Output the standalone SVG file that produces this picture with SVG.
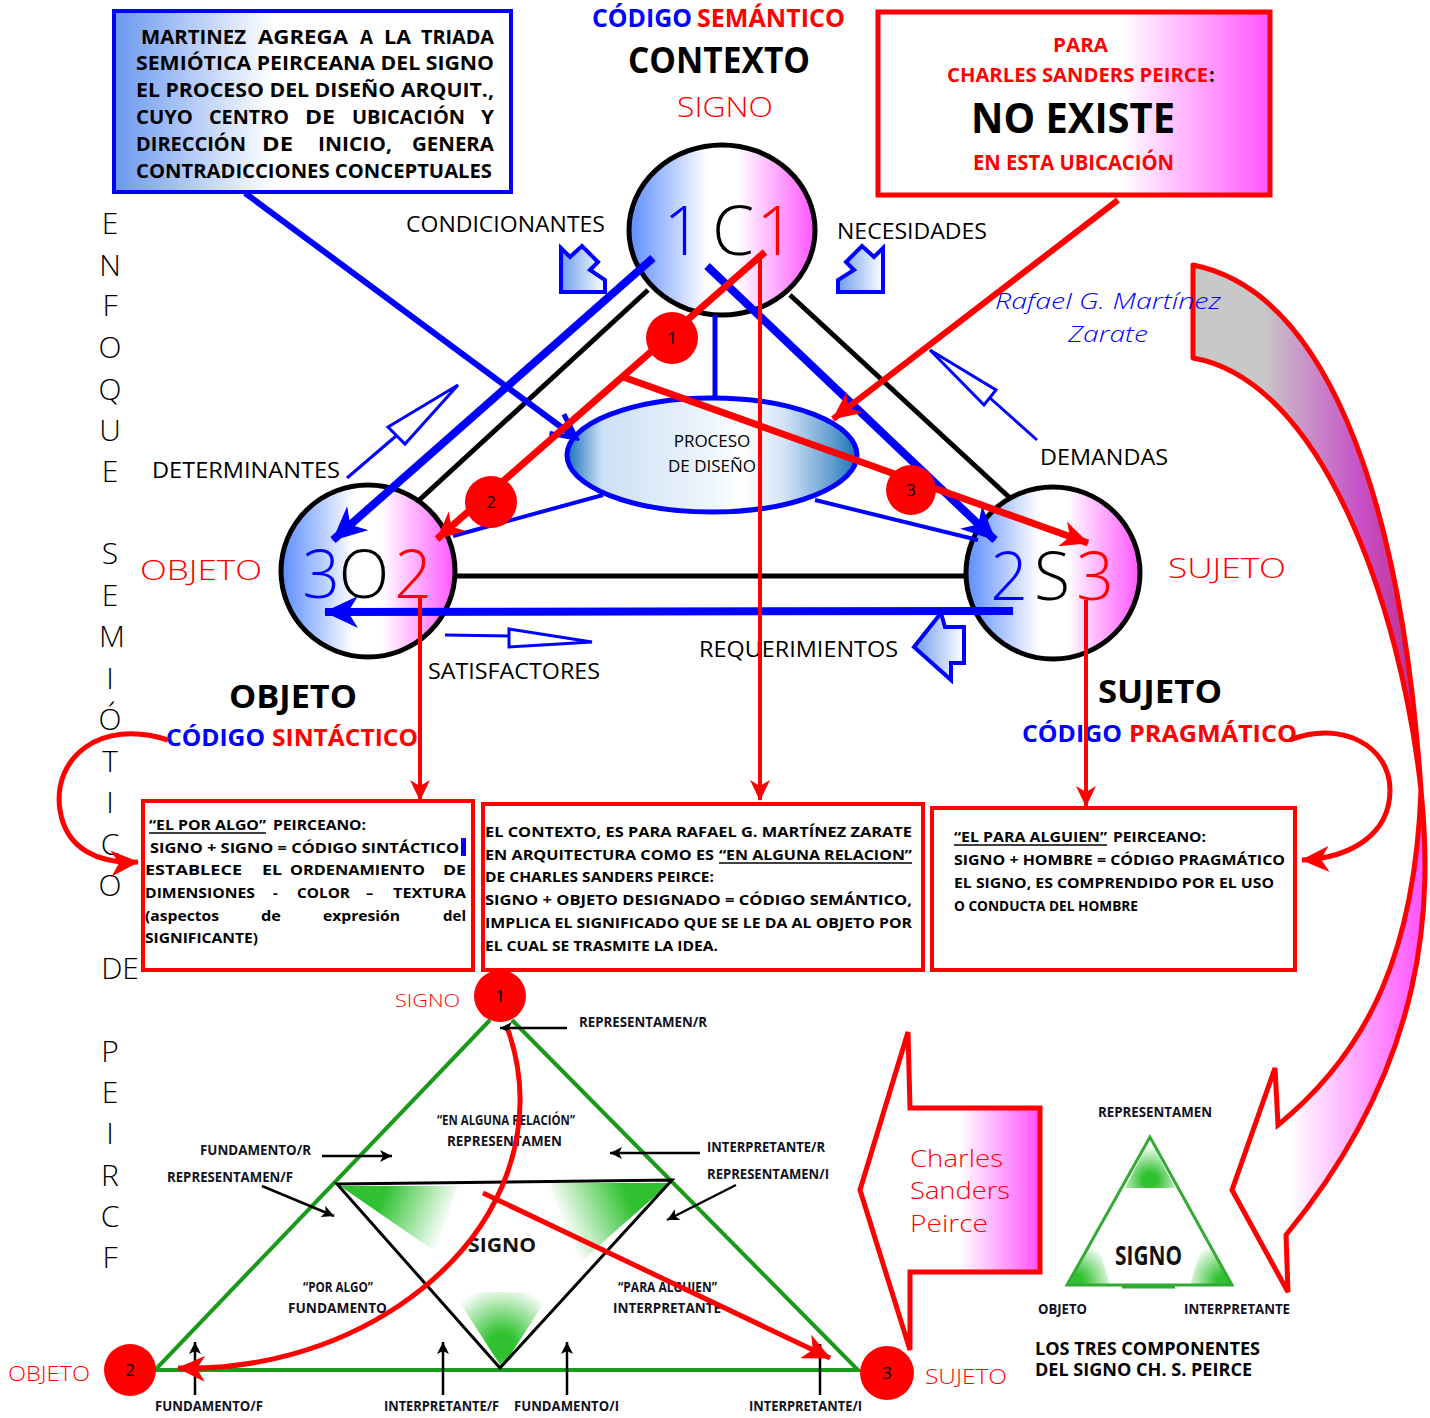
<svg xmlns="http://www.w3.org/2000/svg" width="1430" height="1418" viewBox="0 0 1430 1418">
<style>
.b{font-family:"Open Sans","Liberation Sans",sans-serif;font-weight:700}
.n{font-family:"Open Sans","Liberation Sans",sans-serif;font-weight:400}
.l{font-family:"Open Sans","Liberation Sans",sans-serif;font-weight:300}
.lbl{font-family:"Open Sans","Liberation Sans",sans-serif;font-weight:700;fill:#111122;font-size:15px}
.vl{font-family:"Open Sans","Liberation Sans",sans-serif;font-weight:300;font-size:30px;fill:#000;text-anchor:middle}
</style>
<defs>
<linearGradient id="gCirc" x1="0" y1="0" x2="1" y2="0">
<stop offset="0" stop-color="#5b8cff"/><stop offset="0.42" stop-color="#fff"/><stop offset="0.58" stop-color="#fff"/><stop offset="1" stop-color="#ff55ff"/>
</linearGradient>
<linearGradient id="gBlueBox" x1="0" y1="0" x2="1" y2="0">
<stop offset="0" stop-color="#6a98ee"/><stop offset="0.4" stop-color="#fff"/>
</linearGradient>
<linearGradient id="gPinkBox" x1="0" y1="0" x2="1" y2="0">
<stop offset="0.62" stop-color="#fff"/><stop offset="1" stop-color="#ff55ff"/>
</linearGradient>
<linearGradient id="gEll" x1="0" y1="0" x2="1" y2="0">
<stop offset="0" stop-color="#1570b8"/><stop offset="0.12" stop-color="#cde0f6"/><stop offset="0.5" stop-color="#eef5fc"/><stop offset="0.6" stop-color="#fff"/><stop offset="0.75" stop-color="#d2e4f6"/><stop offset="0.92" stop-color="#5d9bd0"/><stop offset="1" stop-color="#1570b8"/>
</linearGradient>
<linearGradient id="gBlk" x1="0" y1="0" x2="1" y2="0">
<stop offset="0" stop-color="#6f9ded"/><stop offset="1" stop-color="#fff"/>
</linearGradient>
<linearGradient id="gRibTop" gradientUnits="userSpaceOnUse" x1="1193" y1="0" x2="1425" y2="0">
<stop offset="0.3" stop-color="#c8c8c8"/><stop offset="0.72" stop-color="#c850c8"/><stop offset="1" stop-color="#c02880"/>
</linearGradient>
<linearGradient id="gRibBot" gradientUnits="userSpaceOnUse" x1="1290" y1="0" x2="1425" y2="0">
<stop offset="0" stop-color="#fff"/><stop offset="1" stop-color="#ff50ff"/>
</linearGradient>
<linearGradient id="gCSP" gradientUnits="userSpaceOnUse" x1="960" y1="0" x2="1040" y2="0">
<stop offset="0" stop-color="#fff"/><stop offset="1" stop-color="#ff50ff"/>
</linearGradient>
<linearGradient id="gGL" gradientUnits="userSpaceOnUse" x1="345" y1="1188" x2="445" y2="1230">
<stop offset="0.35" stop-color="#2fc12f"/><stop offset="1" stop-color="#2fc12f" stop-opacity="0"/>
</linearGradient>
<linearGradient id="gGR" gradientUnits="userSpaceOnUse" x1="665" y1="1186" x2="565" y2="1230">
<stop offset="0.35" stop-color="#2fc12f"/><stop offset="1" stop-color="#2fc12f" stop-opacity="0"/>
</linearGradient>
<radialGradient id="gGB" gradientUnits="userSpaceOnUse" cx="502" cy="1345" r="60">
<stop offset="0.2" stop-color="#2fc12f"/><stop offset="1" stop-color="#2fc12f" stop-opacity="0"/>
</radialGradient>
<radialGradient id="gGS1" gradientUnits="userSpaceOnUse" cx="1150" cy="1180" r="35">
<stop offset="0.2" stop-color="#2fc12f"/><stop offset="1" stop-color="#2fc12f" stop-opacity="0"/>
</radialGradient>
<radialGradient id="gGS2" gradientUnits="userSpaceOnUse" cx="1075" cy="1282" r="40">
<stop offset="0.2" stop-color="#2fc12f"/><stop offset="1" stop-color="#2fc12f" stop-opacity="0"/>
</radialGradient>
<radialGradient id="gGS3" gradientUnits="userSpaceOnUse" cx="1225" cy="1282" r="40">
<stop offset="0.2" stop-color="#2fc12f"/><stop offset="1" stop-color="#2fc12f" stop-opacity="0"/>
</radialGradient>
<marker id="aRed" markerUnits="userSpaceOnUse" markerWidth="30" markerHeight="26" refX="27" refY="13" orient="auto">
<path d="M0,0 L28,13 L0,26 L8,13 Z" fill="#ff0000"/>
</marker>
<marker id="aRedS" markerUnits="userSpaceOnUse" markerWidth="22" markerHeight="20" refX="20" refY="10" orient="auto">
<path d="M0,0 L21,10 L0,20 L6,10 Z" fill="#ff0000"/>
</marker>
<marker id="aBlue" markerUnits="userSpaceOnUse" markerWidth="36" markerHeight="32" refX="33" refY="16" orient="auto">
<path d="M0,0 L34,16 L0,32 L10,16 Z" fill="#0000ff"/>
</marker>
<marker id="aBlueV" markerUnits="userSpaceOnUse" markerWidth="30" markerHeight="30" refX="26" refY="15" orient="auto">
<path d="M2,3 L26,15 L2,27" fill="none" stroke="#0000ff" stroke-width="5"/>
</marker>
<marker id="aK" markerUnits="userSpaceOnUse" markerWidth="16" markerHeight="16" refX="14" refY="8" orient="auto">
<path d="M2,2 L14,8 L2,14 L5,8 Z" fill="#000"/>
</marker>
</defs>
<rect width="1430" height="1418" fill="#fff"/>

<g id="ribbon">
<path d="M1193,265 C1320,290 1400,480 1421,790 C1400,600 1320,380 1193,358 Z" fill="url(#gRibTop)" stroke="#ff0000" stroke-width="5" stroke-linejoin="round"/>
<path d="M1421,790 C1432,900 1430,1060 1286,1235 L1288,1292 L1232,1190 L1275,1068 L1278,1125 C1370,1050 1415,950 1421,790 Z" fill="url(#gRibBot)" stroke="#ff0000" stroke-width="5"/>
</g>

<g id="note-martinez">
<rect x="114" y="11" width="397" height="181" fill="url(#gBlueBox)" stroke="#0000ff" stroke-width="4"/>
<g class="b" font-size="19.5" fill="#000">
<text x="141" y="44" textLength="105" lengthAdjust="spacingAndGlyphs">MARTINEZ</text>
<text x="258" y="44" textLength="90" lengthAdjust="spacingAndGlyphs">AGREGA</text>
<text x="360" y="44" textLength="13" lengthAdjust="spacingAndGlyphs">A</text>
<text x="384" y="44" textLength="27" lengthAdjust="spacingAndGlyphs">LA</text>
<text x="421" y="44" textLength="73" lengthAdjust="spacingAndGlyphs">TRIADA</text>
<text x="136" y="70" textLength="358" lengthAdjust="spacingAndGlyphs">SEMIÓTICA PEIRCEANA DEL SIGNO</text>
<text x="136" y="97" textLength="358" lengthAdjust="spacingAndGlyphs">EL PROCESO DEL DISEÑO ARQUIT.,</text>
<text x="136" y="124" textLength="57" lengthAdjust="spacingAndGlyphs">CUYO</text>
<text x="209" y="124" textLength="80" lengthAdjust="spacingAndGlyphs">CENTRO</text>
<text x="305" y="124" textLength="30" lengthAdjust="spacingAndGlyphs">DE</text>
<text x="352" y="124" textLength="113" lengthAdjust="spacingAndGlyphs">UBICACIÓN</text>
<text x="481" y="124" textLength="13" lengthAdjust="spacingAndGlyphs">Y</text>
<text x="136" y="151" textLength="110" lengthAdjust="spacingAndGlyphs">DIRECCIÓN</text>
<text x="262" y="151" textLength="31" lengthAdjust="spacingAndGlyphs">DE</text>
<text x="318" y="151" textLength="74" lengthAdjust="spacingAndGlyphs">INICIO,</text>
<text x="412" y="151" textLength="82" lengthAdjust="spacingAndGlyphs">GENERA</text>
<text x="136" y="178" textLength="356" lengthAdjust="spacingAndGlyphs">CONTRADICCIONES CONCEPTUALES</text>
</g>
</g>

<g id="title-contexto">
<text class="b" font-size="25" x="592" y="27" fill="#0000ff" textLength="100" lengthAdjust="spacingAndGlyphs">CÓDIGO</text>
<text class="b" font-size="25" x="697" y="27" fill="#ff0000" textLength="148" lengthAdjust="spacingAndGlyphs">SEMÁNTICO</text>
<text class="b" font-size="35" x="628" y="73" fill="#000" textLength="182" lengthAdjust="spacingAndGlyphs">CONTEXTO</text>
<text class="l" font-size="27" x="677" y="117" fill="#ff0000" textLength="96" lengthAdjust="spacingAndGlyphs">SIGNO</text>
</g>

<g id="note-peirce">
<rect x="878" y="12" width="392" height="183" fill="url(#gPinkBox)" stroke="#ff0000" stroke-width="5"/>
<text class="b" font-size="20" x="1053" y="52" fill="#ff0000" textLength="55" lengthAdjust="spacingAndGlyphs">PARA</text>
<text class="b" font-size="20" x="947" y="82" fill="#ff0000" textLength="261" lengthAdjust="spacingAndGlyphs">CHARLES SANDERS PEIRCE</text>
<text class="b" font-size="20" x="1209" y="82" fill="#000">:</text>
<text class="b" font-size="42" x="971" y="133" fill="#000" textLength="204" lengthAdjust="spacingAndGlyphs">NO EXISTE</text>
<text class="b" font-size="21" x="973" y="170" fill="#ff0000" textLength="201" lengthAdjust="spacingAndGlyphs">EN ESTA UBICACIÓN</text>
</g>

<g id="vertical-title" class="vl">
<text x="110" y="234">E</text><text x="110" y="276">N</text><text x="110" y="316">F</text><text x="110" y="358">O</text><text x="110" y="400">Q</text><text x="110" y="441">U</text><text x="110" y="482">E</text>
<text x="110" y="564">S</text><text x="110" y="606">E</text><text x="112" y="647">M</text><text x="110" y="689">I</text><text x="110" y="730">Ó</text><text x="110" y="772">T</text><text x="110" y="813">I</text><text x="110" y="855">C</text><text x="110" y="896">O</text>
<text x="120" y="979">DE</text>
<text x="110" y="1062">P</text><text x="110" y="1103">E</text><text x="110" y="1144">I</text><text x="110" y="1186">R</text><text x="110" y="1227">C</text><text x="110" y="1268">F</text>
</g>

<g id="triangle-edges" stroke="#000" stroke-width="5" fill="none">
<line x1="648" y1="290" x2="416" y2="503"/>
<line x1="790" y1="295" x2="1010" y2="498"/>
<line x1="456" y1="576" x2="966" y2="576"/>
</g>

<g id="labels" class="n" font-size="21" fill="#000">
<text x="406" y="232" textLength="199" lengthAdjust="spacingAndGlyphs">CONDICIONANTES</text>
<text x="837" y="239" textLength="150" lengthAdjust="spacingAndGlyphs">NECESIDADES</text>
<text x="152" y="478" textLength="188" lengthAdjust="spacingAndGlyphs">DETERMINANTES</text>
<text x="1040" y="465" textLength="128" lengthAdjust="spacingAndGlyphs">DEMANDAS</text>
<text x="699" y="657" textLength="199" lengthAdjust="spacingAndGlyphs">REQUERIMIENTOS</text>
<text x="428" y="679" textLength="172" lengthAdjust="spacingAndGlyphs">SATISFACTORES</text>
</g>
<g id="author">
<text font-family="'Open Sans','DejaVu Sans',sans-serif" font-style="italic" font-weight="300" font-size="22" x="995" y="309" fill="#0000ff" textLength="226" lengthAdjust="spacingAndGlyphs">Rafael G. Martínez</text>
<text font-family="'Open Sans','DejaVu Sans',sans-serif" font-style="italic" font-weight="300" font-size="22" x="1068" y="342" fill="#0000ff" textLength="80" lengthAdjust="spacingAndGlyphs">Zarate</text>
</g>

<g id="block-arrows" fill="url(#gBlk)" stroke="#0000ff" stroke-width="4" stroke-linejoin="miter">
<path d="M561,292 L561,248 L570,257 L582,246 L598,262 L590,270 L605,280 L605,292 Z"/>
<path d="M883,292 L883,248 L874,257 L862,246 L846,262 L854,270 L838,280 L838,292 Z"/>
<path d="M914,647 L941,613 L945,627 L964,627 L964,663 L951,663 L951,680 Z"/>
</g>
<g id="thin-arrows" fill="#fff" stroke="#0000ff" stroke-width="3">
<line x1="347" y1="478" x2="396" y2="436"/>
<path d="M388,427 L458,385 L405,444 Z"/>
<line x1="1037" y1="440" x2="990" y2="398"/>
<path d="M984,405 L930,350 L996,390 Z"/>
<line x1="445" y1="635" x2="510" y2="636"/>
<path d="M509,629 L592,642 L509,647 Z"/>
</g>

<g id="node-contexto">
<ellipse cx="722" cy="230" rx="93" ry="85" fill="url(#gCirc)" stroke="#000" stroke-width="5"/>
<text class="l" font-size="68" x="683" y="255" text-anchor="middle" fill="#0000ff">1</text>
<text class="l" font-size="68" x="733" y="255" text-anchor="middle" fill="#000">C</text>
<text class="l" font-size="68" x="776" y="255" text-anchor="middle" fill="#ff0000">1</text>
</g>
<g id="node-objeto">
<ellipse cx="368" cy="571" rx="87" ry="86" fill="url(#gCirc)" stroke="#000" stroke-width="5"/>
<text class="l" font-size="66" x="321" y="598" text-anchor="middle" fill="#0000ff">3</text>
<text class="l" font-size="66" x="364" y="598" text-anchor="middle" fill="#000">O</text>
<text class="l" font-size="66" x="413" y="598" text-anchor="middle" fill="#ff0000">2</text>
</g>
<g id="node-sujeto">
<ellipse cx="1053" cy="573" rx="87" ry="86" fill="url(#gCirc)" stroke="#000" stroke-width="5"/>
<text class="l" font-size="66" x="1009" y="600" text-anchor="middle" fill="#0000ff">2</text>
<text class="l" font-size="66" x="1052" y="600" text-anchor="middle" fill="#000">S</text>
<text class="l" font-size="66" x="1095" y="600" text-anchor="middle" fill="#ff0000">3</text>
</g>
<g id="node-proceso">
<ellipse cx="712" cy="455" rx="145" ry="57" fill="url(#gEll)" stroke="#0000ff" stroke-width="5"/>
<text class="n" font-size="17" x="712" y="447" text-anchor="middle" fill="#000">PROCESO</text>
<text class="n" font-size="17" x="712" y="472" text-anchor="middle" fill="#000">DE DISEÑO</text>
</g>

<g id="node-labels">
<text class="l" font-size="28" x="140" y="580" fill="#ff0000" textLength="122" lengthAdjust="spacingAndGlyphs">OBJETO</text>
<text class="l" font-size="28" x="1168" y="578" fill="#ff0000" textLength="118" lengthAdjust="spacingAndGlyphs">SUJETO</text>
<text class="b" font-size="32" x="229" y="708" fill="#000" textLength="128" lengthAdjust="spacingAndGlyphs">OBJETO</text>
<text class="b" font-size="32" x="1098" y="703" fill="#000" textLength="124" lengthAdjust="spacingAndGlyphs">SUJETO</text>
<text class="b" font-size="24" x="166" y="746" fill="#0000ff" textLength="99" lengthAdjust="spacingAndGlyphs">CÓDIGO</text>
<text class="b" font-size="24" x="272" y="746" fill="#ff0000" textLength="146" lengthAdjust="spacingAndGlyphs">SINTÁCTICO</text>
<text class="b" font-size="24" x="1022" y="742" fill="#0000ff" textLength="100" lengthAdjust="spacingAndGlyphs">CÓDIGO</text>
<text class="b" font-size="24" x="1129" y="742" fill="#ff0000" textLength="168" lengthAdjust="spacingAndGlyphs">PRAGMÁTICO</text>
</g>

<g id="connectors" fill="none" stroke-linecap="butt">
<line x1="245" y1="193" x2="576" y2="438" stroke="#0000ff" stroke-width="6" marker-end="url(#aBlueV)"/>
<line x1="715" y1="315" x2="715" y2="397" stroke="#0000ff" stroke-width="5"/>
<line x1="653" y1="258" x2="333" y2="540" stroke="#0000ff" stroke-width="8" marker-end="url(#aBlue)"/>
<line x1="707" y1="266" x2="995" y2="540" stroke="#0000ff" stroke-width="8" marker-end="url(#aBlue)"/>
<line x1="1013" y1="611" x2="325" y2="612" stroke="#0000ff" stroke-width="8" marker-end="url(#aBlue)"/>
<line x1="603" y1="495" x2="453" y2="536" stroke="#0000ff" stroke-width="4"/>
<line x1="815" y1="500" x2="978" y2="540" stroke="#0000ff" stroke-width="4"/>
<line x1="1118" y1="200" x2="833" y2="419" stroke="#ff0000" stroke-width="6" marker-end="url(#aRed)"/>
<line x1="765" y1="252" x2="437" y2="539" stroke="#ff0000" stroke-width="7" marker-end="url(#aRed)"/>
<line x1="623" y1="377" x2="1088" y2="543" stroke="#ff0000" stroke-width="7" marker-end="url(#aRed)"/>
<line x1="760" y1="258" x2="760" y2="800" stroke="#ff0000" stroke-width="4" marker-end="url(#aRedS)"/>
<line x1="420" y1="595" x2="420" y2="800" stroke="#ff0000" stroke-width="4" marker-end="url(#aRedS)"/>
<line x1="1086" y1="600" x2="1086" y2="806" stroke="#ff0000" stroke-width="4" marker-end="url(#aRedS)"/>
<path d="M168,740 C100,718 52,758 60,810 C66,850 100,864 138,862" stroke="#ff0000" stroke-width="5" marker-end="url(#aRed)"/>
<path d="M1290,740 C1340,720 1390,745 1390,790 C1390,835 1350,858 1302,860" stroke="#ff0000" stroke-width="5" marker-end="url(#aRed)"/>
</g>

<g id="steps">
<circle cx="672" cy="338" r="26" fill="#ff0000"/><text class="n" font-size="17" x="672" y="344" text-anchor="middle" fill="#000">1</text>
<circle cx="491" cy="502" r="26" fill="#ff0000"/><text class="n" font-size="17" x="491" y="508" text-anchor="middle" fill="#000">2</text>
<circle cx="911" cy="490" r="25" fill="#ff0000"/><text class="n" font-size="17" x="911" y="496" text-anchor="middle" fill="#000">3</text>
</g>

<g id="box-sintactico">
<rect x="143" y="801" width="330" height="169" fill="#fff" stroke="#ff0000" stroke-width="4"/>
<g class="b" font-size="14.5" fill="#000">
<text x="149" y="830" textLength="117" lengthAdjust="spacingAndGlyphs">“EL POR ALGO”</text>
<line x1="149" y1="833" x2="266" y2="833" stroke="#000" stroke-width="1.5"/>
<text x="273" y="830" textLength="93" lengthAdjust="spacingAndGlyphs">PEIRCEANO:</text>
<text x="150" y="853" textLength="309" lengthAdjust="spacingAndGlyphs">SIGNO + SIGNO = CÓDIGO SINTÁCTICO</text>
<rect x="461" y="838" width="5" height="18" fill="#0000ff" stroke="none"/>
<text x="145" y="875" textLength="97" lengthAdjust="spacingAndGlyphs">ESTABLECE</text>
<text x="262" y="875" textLength="20" lengthAdjust="spacingAndGlyphs">EL</text>
<text x="290" y="875" textLength="135" lengthAdjust="spacingAndGlyphs">ORDENAMIENTO</text>
<text x="443" y="875" textLength="23" lengthAdjust="spacingAndGlyphs">DE</text>
<text x="145" y="898" textLength="110" lengthAdjust="spacingAndGlyphs">DIMENSIONES</text>
<text x="273" y="898">-</text>
<text x="297" y="898" textLength="53" lengthAdjust="spacingAndGlyphs">COLOR</text>
<text x="366" y="898">–</text>
<text x="393" y="898" textLength="73" lengthAdjust="spacingAndGlyphs">TEXTURA</text>
<text x="145" y="921" textLength="74" lengthAdjust="spacingAndGlyphs">(aspectos</text>
<text x="261" y="921" textLength="20" lengthAdjust="spacingAndGlyphs">de</text>
<text x="323" y="921" textLength="77" lengthAdjust="spacingAndGlyphs">expresión</text>
<text x="443" y="921" textLength="23" lengthAdjust="spacingAndGlyphs">del</text>
<text x="145" y="943" textLength="113" lengthAdjust="spacingAndGlyphs">SIGNIFICANTE)</text>
</g>
</g>
<g id="box-semantico">
<rect x="483" y="804" width="440" height="166" fill="#fff" stroke="#ff0000" stroke-width="4"/>
<g class="b" font-size="14.5" fill="#000">
<text x="485" y="837" textLength="427" lengthAdjust="spacingAndGlyphs">EL CONTEXTO, ES PARA RAFAEL G. MARTÍNEZ ZARATE</text>
<text x="485" y="860" textLength="229" lengthAdjust="spacingAndGlyphs">EN ARQUITECTURA COMO ES</text>
<text x="719" y="860" textLength="193" lengthAdjust="spacingAndGlyphs">“EN ALGUNA RELACION”</text>
<line x1="719" y1="863" x2="912" y2="863" stroke="#000" stroke-width="1.5"/>
<text x="485" y="882" textLength="229" lengthAdjust="spacingAndGlyphs">DE CHARLES SANDERS PEIRCE:</text>
<text x="485" y="905" textLength="427" lengthAdjust="spacingAndGlyphs">SIGNO + OBJETO DESIGNADO = CÓDIGO SEMÁNTICO,</text>
<text x="485" y="928" textLength="427" lengthAdjust="spacingAndGlyphs">IMPLICA EL SIGNIFICADO QUE SE LE DA AL OBJETO POR</text>
<text x="485" y="951" textLength="233" lengthAdjust="spacingAndGlyphs">EL CUAL SE TRASMITE LA IDEA.</text>
</g>
</g>
<g id="box-pragmatico">
<rect x="932" y="808" width="363" height="162" fill="#fff" stroke="#ff0000" stroke-width="4"/>
<g class="b" font-size="14.5" fill="#000">
<text x="954" y="842" textLength="153" lengthAdjust="spacingAndGlyphs">“EL PARA ALGUIEN”</text>
<line x1="954" y1="845" x2="1107" y2="845" stroke="#000" stroke-width="1.5"/>
<text x="1113" y="842" textLength="93" lengthAdjust="spacingAndGlyphs">PEIRCEANO:</text>
<text x="954" y="865" textLength="331" lengthAdjust="spacingAndGlyphs">SIGNO + HOMBRE = CÓDIGO PRAGMÁTICO</text>
<text x="954" y="888" textLength="320" lengthAdjust="spacingAndGlyphs">EL SIGNO, ES COMPRENDIDO POR EL USO</text>
<text x="954" y="911" textLength="184" lengthAdjust="spacingAndGlyphs">O CONDUCTA DEL HOMBRE</text>
</g>
</g>

<g id="csp-arrow">
<path d="M860,1190 L908,1032 L910,1108 L1040,1108 L1040,1272 L910,1272 L910,1350 Z" fill="url(#gCSP)" stroke="#ff0000" stroke-width="5"/>
<g class="l" font-size="24" fill="#ff0000">
<text x="910" y="1167" textLength="93" lengthAdjust="spacingAndGlyphs">Charles</text>
<text x="910" y="1199" textLength="100" lengthAdjust="spacingAndGlyphs">Sanders</text>
<text x="910" y="1232" textLength="78" lengthAdjust="spacingAndGlyphs">Peirce</text>
</g>
</g>

<g id="peirce-triangle">
<polygon points="340,1186 457,1186 436,1252" fill="url(#gGL)"/>
<polygon points="550,1183 670,1183 577,1265" fill="url(#gGR)"/>
<polygon points="453,1292 551,1292 502,1368" fill="url(#gGB)"/>
<path d="M490,1020 L155,1370 L858,1370 L512,1020" fill="none" stroke="#1a9a1a" stroke-width="4"/>
<path d="M337,1184 L672,1180 L500,1368 Z" fill="none" stroke="#000" stroke-width="3"/>
<text class="b" font-size="20" x="468" y="1252" fill="#111" textLength="68" lengthAdjust="spacingAndGlyphs">SIGNO</text>
<text class="lbl" font-size="12" x="506" y="1125" text-anchor="middle" textLength="138" lengthAdjust="spacingAndGlyphs">“EN ALGUNA RELACIÓN”</text>
<text class="lbl" x="447" y="1146" textLength="115" lengthAdjust="spacingAndGlyphs">REPRESENTAMEN</text>
<text class="lbl" font-size="12" x="303" y="1292" textLength="70" lengthAdjust="spacingAndGlyphs">“POR ALGO”</text>
<text class="lbl" x="288" y="1313" textLength="99" lengthAdjust="spacingAndGlyphs">FUNDAMENTO</text>
<text class="lbl" font-size="12" x="618" y="1292" textLength="99" lengthAdjust="spacingAndGlyphs">“PARA ALGUIEN”</text>
<text class="lbl" x="613" y="1313" textLength="108" lengthAdjust="spacingAndGlyphs">INTERPRETANTE</text>
<text class="lbl" x="579" y="1027" textLength="128" lengthAdjust="spacingAndGlyphs">REPRESENTAMEN/R</text>
<text class="lbl" x="200" y="1155" textLength="111" lengthAdjust="spacingAndGlyphs">FUNDAMENTO/R</text>
<text class="lbl" x="167" y="1182" textLength="126" lengthAdjust="spacingAndGlyphs">REPRESENTAMEN/F</text>
<text class="lbl" x="707" y="1152" textLength="118" lengthAdjust="spacingAndGlyphs">INTERPRETANTE/R</text>
<text class="lbl" x="707" y="1179" textLength="122" lengthAdjust="spacingAndGlyphs">REPRESENTAMEN/I</text>
<text class="lbl" font-size="14" x="155" y="1411" textLength="108" lengthAdjust="spacingAndGlyphs">FUNDAMENTO/F</text>
<text class="lbl" font-size="14" x="384" y="1411" textLength="115" lengthAdjust="spacingAndGlyphs">INTERPRETANTE/F</text>
<text class="lbl" font-size="14" x="514" y="1411" textLength="105" lengthAdjust="spacingAndGlyphs">FUNDAMENTO/I</text>
<text class="lbl" font-size="14" x="749" y="1411" textLength="113" lengthAdjust="spacingAndGlyphs">INTERPRETANTE/I</text>
<g stroke="#000" stroke-width="2.5" fill="none">
<line x1="567" y1="1028" x2="500" y2="1028" marker-end="url(#aK)"/>
<line x1="322" y1="1156" x2="392" y2="1156" marker-end="url(#aK)"/>
<line x1="262" y1="1186" x2="334" y2="1216" marker-end="url(#aK)"/>
<line x1="700" y1="1153" x2="610" y2="1153" marker-end="url(#aK)"/>
<line x1="736" y1="1185" x2="667" y2="1220" marker-end="url(#aK)"/>
<line x1="195" y1="1395" x2="195" y2="1342" marker-end="url(#aK)"/>
<line x1="443" y1="1395" x2="443" y2="1342" marker-end="url(#aK)"/>
<line x1="567" y1="1395" x2="567" y2="1342" marker-end="url(#aK)"/>
<line x1="820" y1="1395" x2="820" y2="1344" marker-end="url(#aK)"/>
</g>
<path d="M508,1030 C540,1120 510,1230 400,1305 C330,1352 250,1370 178,1368" fill="none" stroke="#ff0000" stroke-width="5" marker-end="url(#aRed)"/>
<line x1="483" y1="1193" x2="830" y2="1358" stroke="#ff0000" stroke-width="5" marker-end="url(#aRed)"/>
<circle cx="500" cy="996" r="26" fill="#ff0000"/><text class="n" font-size="17" x="500" y="1002" text-anchor="middle" fill="#000">1</text>
<circle cx="130" cy="1370" r="26" fill="#ff0000"/><text class="n" font-size="17" x="130" y="1376" text-anchor="middle" fill="#000">2</text>
<circle cx="887" cy="1373" r="27" fill="#ff0000"/><text class="n" font-size="17" x="887" y="1379" text-anchor="middle" fill="#000">3</text>
<text class="l" font-size="18" x="395" y="1007" fill="#ff0000" textLength="65" lengthAdjust="spacingAndGlyphs">SIGNO</text>
<text class="l" font-size="20" x="8" y="1381" fill="#ff0000" textLength="82" lengthAdjust="spacingAndGlyphs">OBJETO</text>
<text class="l" font-size="20" x="925" y="1384" fill="#ff0000" textLength="82" lengthAdjust="spacingAndGlyphs">SUJETO</text>
</g>

<g id="small-triangle">
<polygon points="1150,1140 1125,1188 1175,1188" fill="url(#gGS1)"/>
<polygon points="1069,1284 1095,1236 1110,1284" fill="url(#gGS2)"/>
<polygon points="1190,1284 1205,1236 1231,1284" fill="url(#gGS3)"/>
<polygon points="1150,1137 1067,1285 1232,1285" fill="none" stroke="#33aa33" stroke-width="3"/>
<line x1="1122" y1="1287" x2="1175" y2="1287" stroke="#33aa33" stroke-width="3"/>
<text class="lbl" font-size="17" x="1098" y="1117" textLength="114" lengthAdjust="spacingAndGlyphs">REPRESENTAMEN</text>
<text class="b" font-size="26" x="1115" y="1265" fill="#111" textLength="67" lengthAdjust="spacingAndGlyphs">SIGNO</text>
<text class="lbl" font-size="17" x="1038" y="1314" textLength="49" lengthAdjust="spacingAndGlyphs">OBJETO</text>
<text class="lbl" font-size="17" x="1184" y="1314" textLength="106" lengthAdjust="spacingAndGlyphs">INTERPRETANTE</text>
<text class="b" font-size="17" x="1035" y="1355" fill="#000" textLength="225" lengthAdjust="spacingAndGlyphs">LOS TRES COMPONENTES</text>
<text class="b" font-size="17" x="1035" y="1376" fill="#000" textLength="217" lengthAdjust="spacingAndGlyphs">DEL SIGNO CH. S. PEIRCE</text>
</g>
</svg>
